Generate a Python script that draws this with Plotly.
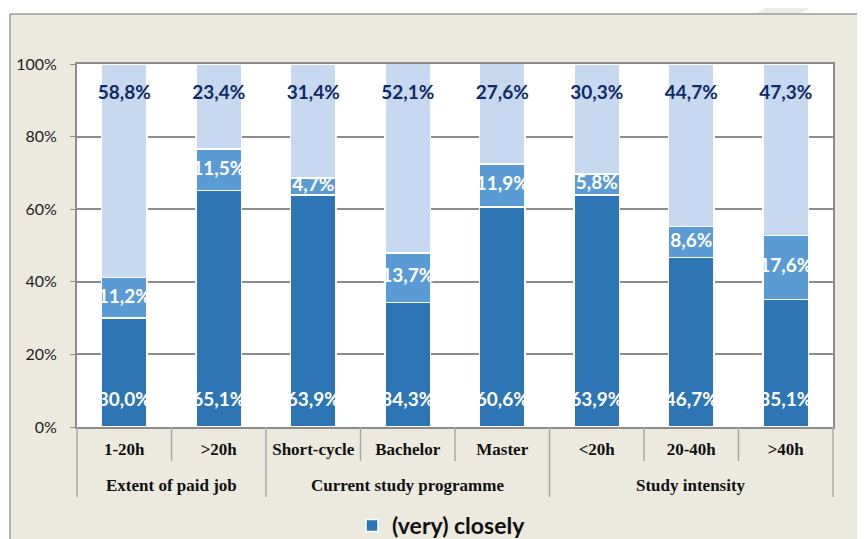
import plotly.graph_objects as go

# ---- data ----
groups = ["Extent of paid job", "Extent of paid job",
          "Current study programme", "Current study programme", "Current study programme",
          "Study intensity", "Study intensity", "Study intensity"]
categories = ["1-20h", ">20h", "Short-cycle", "Bachelor", "Master", "<20h", "20-40h", ">40h"]
very_closely = [30.0, 65.1, 63.9, 34.3, 60.6, 63.9, 46.7, 35.1]
middle_vals = [11.2, 11.5, 4.7, 13.7, 11.9, 5.8, 8.6, 17.6]
top_vals = [58.8, 23.4, 31.4, 52.1, 27.6, 30.3, 44.7, 47.3]
y_ticks = [0, 20, 40, 60, 80, 100]
y_ticktext = ["0%", "20%", "40%", "60%", "80%", "100%"]


def fmt(v):
    return f"{v:.1f}".replace(".", ",") + "%"


# page body has an 8px margin: work in window pixels, shift into figure pixels
OFF = 8
WIN_W, WIN_H = 865, 539
W, H = WIN_W - OFF, WIN_H - OFF
PLOT_L, PLOT_R, PLOT_T, PLOT_B = 77, 833, 64, 427  # window pixels
L, T = PLOT_L - OFF, PLOT_T - OFF
R, B = W - (PLOT_R - OFF), H - (PLOT_B - OFF)
PW, PH = PLOT_R - PLOT_L, PLOT_B - PLOT_T


def px(x):
    return (x - PLOT_L) / PW


def py(y):
    return (PLOT_B - y) / PH


n = len(categories)
c_dark, c_mid, c_light = "#2E75B6", "#5B9BD5", "#C6D9F0"
line = dict(color="white", width=1.5)

fig = go.Figure()
fig.add_bar(x=categories, y=very_closely, name="(very) closely", marker=dict(color=c_dark, line=line))
fig.add_bar(x=categories, y=middle_vals, name="middle", marker=dict(color=c_mid, line=line), showlegend=False)
fig.add_bar(x=categories, y=top_vals, name="top", marker=dict(color=c_light, line=line), showlegend=False)

lab_font = dict(family="Lato", size=19, weight="bold")
fig.add_scatter(x=categories, y=[7.0] * n, mode="text",
                text=[fmt(v) for v in very_closely], textfont=dict(lab_font, color="white"),
                showlegend=False, hoverinfo="skip", cliponaxis=False)
fig.add_scatter(x=categories, y=[b + m / 2 for b, m in zip(very_closely, middle_vals)], mode="text",
                text=[fmt(v) for v in middle_vals], textfont=dict(lab_font, color="white"),
                showlegend=False, hoverinfo="skip", cliponaxis=False)
fig.add_scatter(x=categories, y=[91.7] * n, mode="text",
                text=[fmt(v) for v in top_vals], textfont=dict(lab_font, color="#102A66"),
                showlegend=False, hoverinfo="skip", cliponaxis=False)

border = "#9A9A9A"
div = "#A8A8A8"
shapes = [
    dict(type="rect", xref="paper", yref="paper", x0=px(-20), x1=px(WIN_W + 20), y0=py(14), y1=py(-20),
         fillcolor="white", line=dict(width=0), layer="above"),
    dict(type="rect", xref="paper", yref="paper", x0=px(-20), x1=px(10), y0=py(WIN_H + 20), y1=py(-20),
         fillcolor="white", line=dict(width=0), layer="above"),
    dict(type="path", xref="paper", yref="paper",
         path=f"M {px(755)} {py(14)} L {px(779)} {py(0)} L {px(823)} {py(0)} L {px(800)} {py(14)} Z",
         fillcolor="#EBEBEB", line=dict(width=0), layer="above"),
    dict(type="line", xref="paper", yref="paper", x0=px(10), x1=px(WIN_W + 20), y0=py(14), y1=py(14),
         line=dict(color=border, width=1.5), layer="above"),
    dict(type="line", xref="paper", yref="paper", x0=px(10), x1=px(10), y0=py(14), y1=py(WIN_H + 20),
         line=dict(color=border, width=1.5), layer="above"),
]

# category / group dividers below the axis
annotations = []
bounds = [0]
for i in range(1, n):
    if groups[i] != groups[i - 1]:
        bounds.append(i)
bounds.append(n)
for i in range(n + 1):
    long_line = i in bounds
    shapes.append(dict(type="line", xref="paper", yref="paper", x0=i / n, x1=i / n,
                       y0=0, y1=py(497 if long_line else 461),
                       line=dict(color=div, width=1.5), layer="above"))
for a, b in zip(bounds[:-1], bounds[1:]):
    annotations.append(dict(xref="paper", yref="paper", x=(a + b) / 2 / n, y=py(485),
                            text=groups[a], showarrow=False, xanchor="center", yanchor="middle",
                            font=dict(family="Liberation Serif", size=17, weight="bold", color="#111")))

fig.update_layout(
    width=W, height=H,
    margin=dict(l=L, r=R, t=T, b=B, pad=0, autoexpand=False),
    barmode="stack", bargap=0.52,
    paper_bgcolor="#ECE9DF", plot_bgcolor="white",
    shapes=shapes, annotations=annotations,
    showlegend=True,
    legend=dict(orientation="h", x=px(352), y=py(504), xanchor="left", yanchor="top",
                font=dict(family="Lato", size=23, weight="bold", color="#111"),
                bgcolor="rgba(0,0,0,0)"),
    xaxis=dict(type="category", automargin=False, showline=True, linecolor="#8C8C8C", linewidth=2,
               mirror=True, ticks="", ticklabelstandoff=6,
               tickfont=dict(family="Liberation Serif", size=17, weight="bold", color="#111"),
               showgrid=False, range=[-0.5, n - 0.5]),
    yaxis=dict(range=[0, 100], tickvals=y_ticks, ticktext=y_ticktext, automargin=False,
               showgrid=True, gridcolor="#8C8C8C",
               gridwidth=2, showline=True, linecolor="#8C8C8C", linewidth=2, mirror=True,
               ticks="outside", ticklen=5, tickcolor="#8C8C8C", ticklabelstandoff=10,
               tickfont=dict(family="Lato", size=16, color="#222"), zeroline=False),
)

fig.write_html("out.html")
